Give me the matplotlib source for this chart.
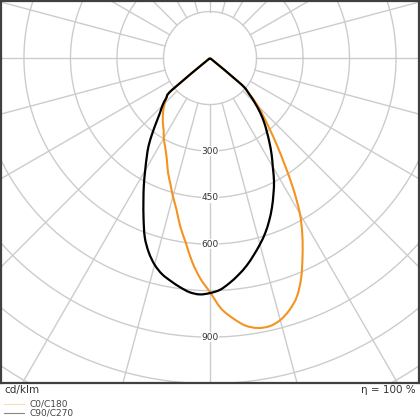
import numpy as np
import matplotlib
matplotlib.use('Agg')
import matplotlib.pyplot as plt
from matplotlib.lines import Line2D
from matplotlib.path import Path
from matplotlib.patches import PathPatch

# gamma angle from nadir (deg) and intensities in cd/klm
gamma = [0, 2.5, 5, 7.5, 10, 12.5, 15, 17.5, 20, 22.5, 25, 27.5,
         30, 32.5, 35, 37.5, 40, 42.5, 45, 47.5, 50, 55]
c0 = [755, 808, 842, 870, 884, 886, 875, 852, 819, 768, 706, 645,
      580, 500, 420, 355, 300, 255, 218, 175, 130, 0]
c180 = [755, 712, 660, 600, 552, 500, 462, 425, 395, 362, 336, 316,
        298, 278, 264, 250, 236, 222, 206, 190, 160, 0]
c90 = [758, 748, 728, 705, 680, 651, 622, 592, 558, 522, 484, 447,
       405, 370, 335, 302, 272, 240, 205, 170, 130, 0]
c270 = [758, 763, 758, 745, 730, 714, 690, 657, 615, 560, 508, 462,
        418, 380, 345, 305, 268, 238, 217, 192, 160, 0]

ring_values = [150, 300, 450, 600, 750, 900, 1050, 1200, 1350]
ring_labels = [300, 450, 600, 900]
spoke_angles = np.arange(0, 360, 15)

ORANGE = '#f39322'
GRID = '#cccccc'


def half_to_xy(g, vals, side):
    g = np.radians(np.array(g))
    v = np.array(vals, dtype=float)
    return side * v * np.sin(g), -v * np.cos(g)


def curve(right, left):
    xr, yr = half_to_xy(gamma, right, 1)
    xl, yl = half_to_xy(gamma, left, -1)
    return np.concatenate([xl[::-1], xr[1:]]), np.concatenate([yl[::-1], yr[1:]])


def smooth_path(x, y):
    # catmull-rom through the points, drawn as bezier segments
    p = np.column_stack([x, y])
    pp = np.vstack([p[0], p, p[-1]])
    verts = [p[0]]
    codes = [Path.MOVETO]
    for i in range(1, len(pp) - 2):
        c1 = pp[i] + (pp[i+1] - pp[i-1]) / 6
        c2 = pp[i+1] - (pp[i+2] - pp[i]) / 6
        verts += [c1, c2, pp[i+1]]
        codes += [Path.CURVE4] * 3
    return Path(verts, codes)


fig = plt.figure(figsize=(4.2, 4.2), dpi=100)
ax = fig.add_axes([1/420, 37/420, 418/420, 382/420])
ax.set_xlim(-674, 674)
ax.set_ylim(-1048, 184)
ax.set_xticks([])
ax.set_yticks([])
for s in ax.spines.values():
    s.set_color('#404040')
    s.set_linewidth(1.6)

# polar grid
t = np.linspace(0, 2*np.pi, 400)
for r in ring_values:
    ax.plot(r*np.cos(t), r*np.sin(t), color=GRID, lw=1.0, zorder=1)
for a in spoke_angles:
    a = np.radians(a)
    ax.plot([150*np.cos(a), 2000*np.cos(a)], [150*np.sin(a), 2000*np.sin(a)],
            color=GRID, lw=1.0, zorder=1)

for v in ring_labels:
    ax.text(0, -v, str(v), ha='center', va='center', fontsize=6.5, color='#333333',
            bbox=dict(facecolor='white', edgecolor='none', pad=0.6), zorder=2)

x, y = curve(c0, c180)
ax.add_patch(PathPatch(smooth_path(x, y), fill=False, edgecolor=ORANGE, lw=1.5,
                       zorder=3, joinstyle='round'))
x, y = curve(c90, c270)
ax.add_patch(PathPatch(smooth_path(x, y), fill=False, edgecolor='black', lw=1.6,
                       zorder=4, joinstyle='round'))

fig.text(4/420, 1 - 390/420, 'cd/klm', fontsize=7.5, color='#333333', va='center', ha='left')
fig.text(416/420, 1 - 390/420, 'η = 100 %', fontsize=7.5, color='#333333', va='center', ha='right')

fig.add_artist(Line2D([4/420, 24/420], [1 - 404/420]*2, color='#f7dcb8', lw=0.8))
fig.add_artist(Line2D([4/420, 24/420], [1 - 413/420]*2, color='#888888', lw=0.8))
fig.text(29/420, 1 - 404/420, 'C0/C180', fontsize=6.5, color='#444444', va='center')
fig.text(29/420, 1 - 413/420, 'C90/C270', fontsize=6.5, color='#444444', va='center')

fig.savefig('out.png', dpi=100)
